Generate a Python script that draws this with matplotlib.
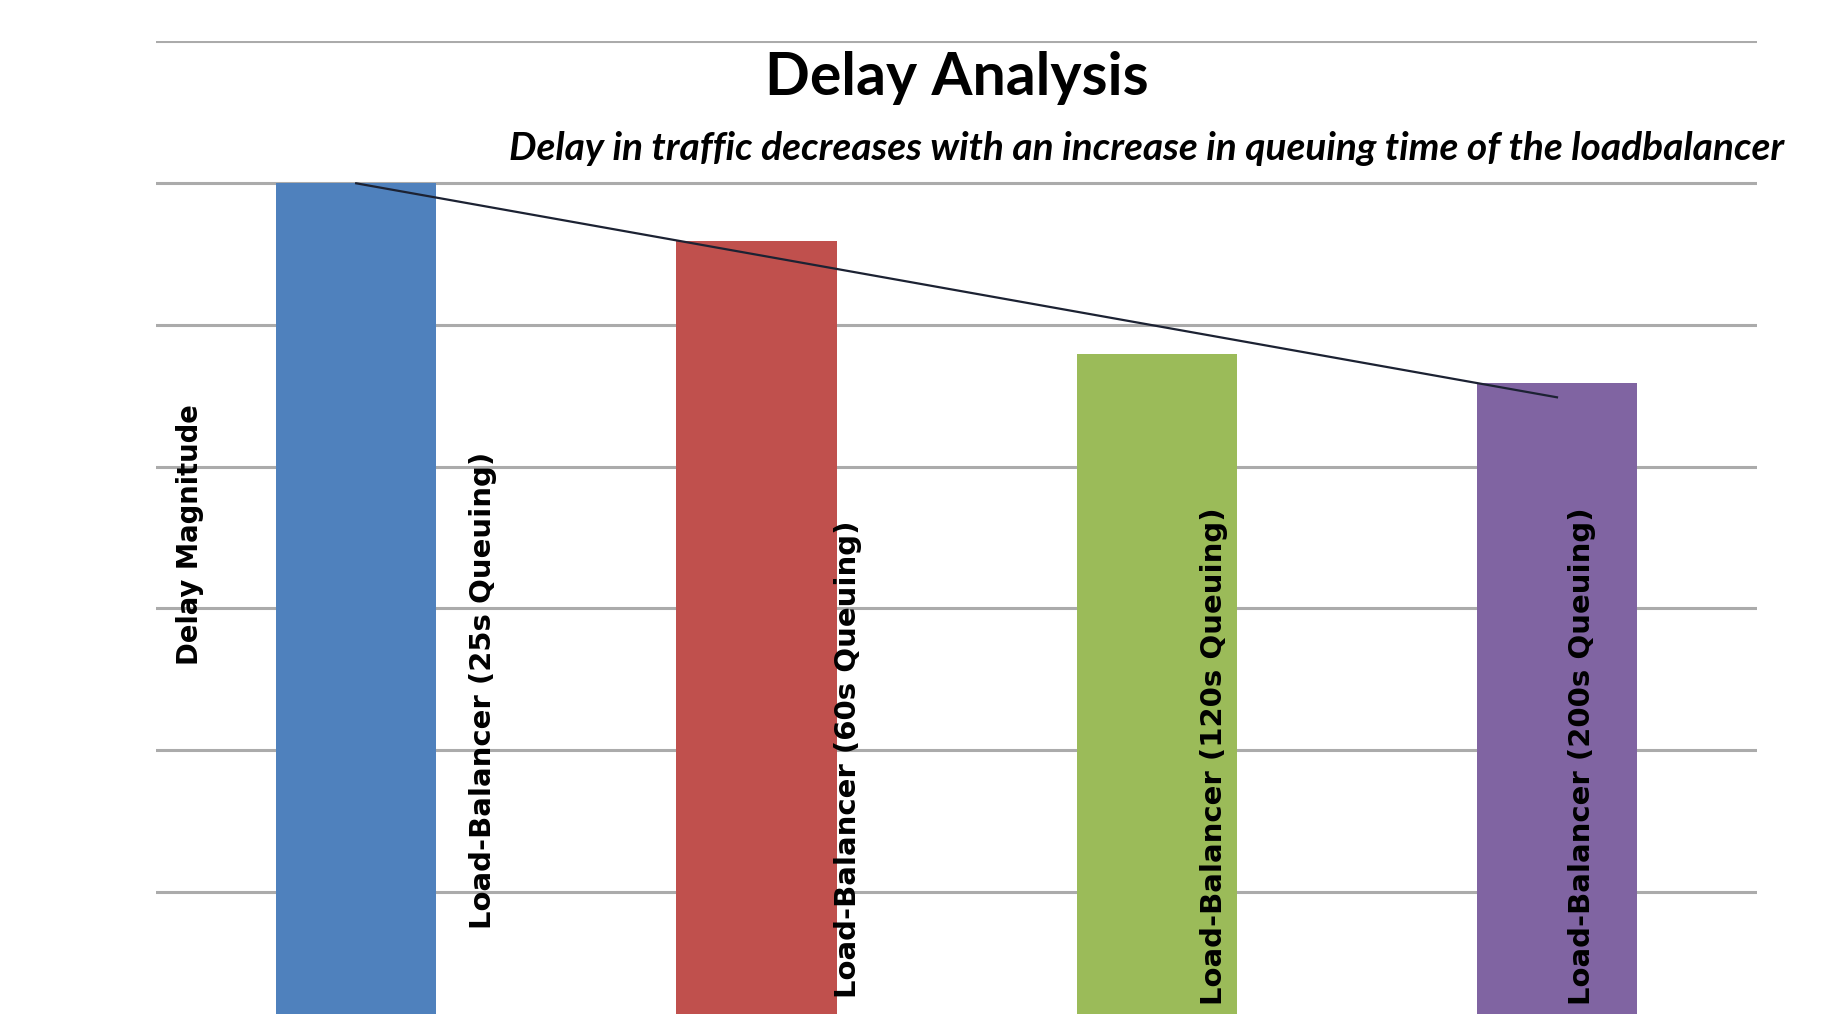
import matplotlib
matplotlib.use("Agg")
import matplotlib.pyplot as plt
import numpy as np

# Chart data (gridline units)
categories = ["Load-Balancer (25s Queuing)", "Load-Balancer (60s Queuing)",
              "Load-Balancer (120s Queuing)", "Load-Balancer (200s Queuing)"]
delay = [6.0, 5.59, 4.79, 4.59]
bar_colors = ["#4F81BD", "#C0504D", "#9BBB59", "#8064A2"]

title = "Delay Analysis"
subtitle = "Delay in traffic decreases with an increase in queuing time of the loadbalancer"
ylabel = "Delay Magnitude"

# label placement (layout only)
label_dx = [0.317, 0.228, 0.142, 0.062]
label_y = [0.74, 0.25, 0.20, 0.20]

fig = plt.figure(figsize=(18.38, 10.14), dpi=100)
ax = fig.add_axes([0.0849, -0.0195, 0.8711, 0.979])

x = np.arange(len(categories))
ax.bar(x, delay, width=0.4, color=bar_colors, zorder=2)

# linear trendline
coef = np.polyfit(x, delay, 1)
ax.plot(x[[0, -1]], np.polyval(coef, x[[0, -1]]), color="#1c2233", lw=1.6, zorder=3)

ax.set_xlim(-0.5, 3.5)
ax.set_ylim(0, 7)
ax.set_yticks(range(8))
ax.set_xticks([])
ax.tick_params(left=False, labelleft=False)
ax.grid(axis="y", color="#ABABAB", lw=2.2, zorder=0)
for s in ax.spines.values():
    s.set_visible(False)

for i, lab in enumerate(categories):
    ax.text(x[i] + label_dx[i], label_y[i], lab, rotation=90, ha="center", va="bottom",
            fontsize=21, fontweight="semibold", family="DejaVu Sans", zorder=4)

ax.set_ylabel(ylabel, fontsize=19.8, fontweight="semibold", family="DejaVu Sans")
ax.yaxis.set_label_coords(0.030, 0.503)

fig.text(957 / 1838, 1 - 78 / 1014, title, ha="center", va="center",
         fontsize=42.5, fontweight="bold", family="Lato")
fig.text(1147 / 1838, 1 - 149 / 1014, subtitle, ha="center", va="center",
         fontsize=28, fontweight="bold", style="italic", family="Lato")

fig.savefig("out.png", dpi=100)
